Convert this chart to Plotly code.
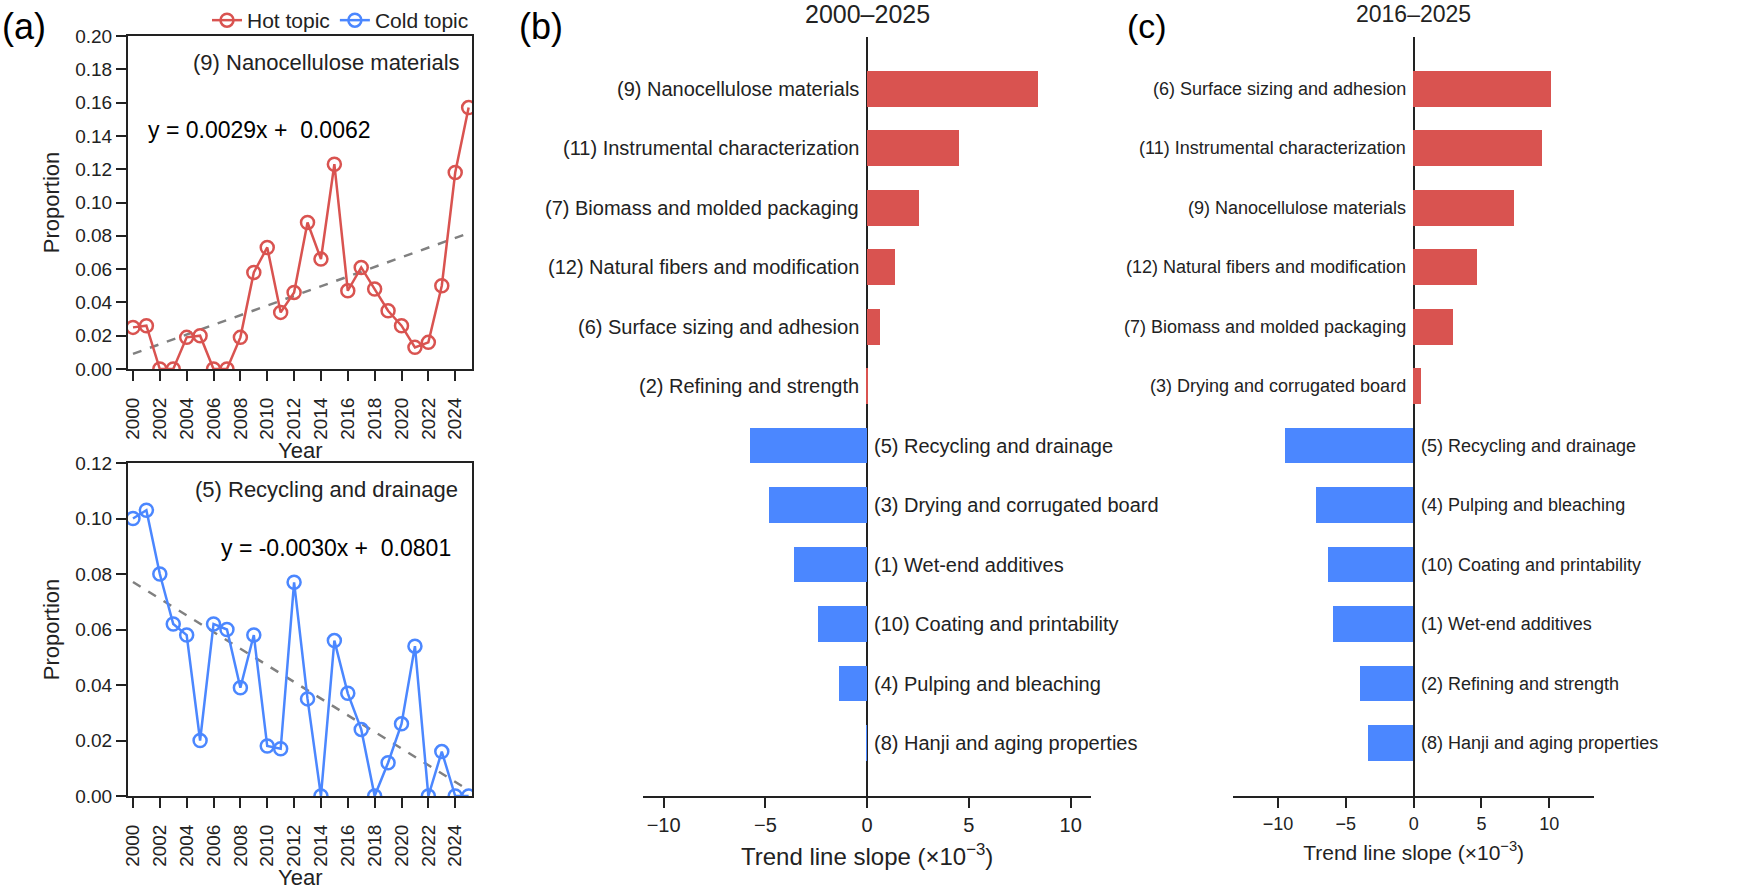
import plotly.graph_objects as go

# ---------------- data ----------------
years = list(range(2000, 2026))
hot_name = "(9) Nanocellulose materials"
hot_vals = [0.025, 0.026, 0.0, 0.0, 0.019, 0.020, 0.0, 0.0, 0.019, 0.058, 0.073, 0.034, 0.046,
            0.088, 0.066, 0.123, 0.047, 0.061, 0.048, 0.035, 0.026, 0.013, 0.016, 0.050, 0.118, 0.157]
hot_slope, hot_intercept = 0.0029, 0.0062

cold_name = "(5) Recycling and drainage"
cold_vals = [0.100, 0.103, 0.080, 0.062, 0.058, 0.020, 0.062, 0.060, 0.039, 0.058, 0.018, 0.017, 0.077,
             0.035, 0.0, 0.056, 0.037, 0.024, 0.0, 0.012, 0.026, 0.054, 0.0, 0.016, 0.0, 0.0]
cold_slope, cold_intercept = -0.0030, 0.0801

b_title = "2000–2025"
b_topics = ["(9) Nanocellulose materials", "(11) Instrumental characterization",
            "(7) Biomass and molded packaging", "(12) Natural fibers and modification",
            "(6) Surface sizing and adhesion", "(2) Refining and strength",
            "(5) Recycling and drainage", "(3) Drying and corrugated board",
            "(1) Wet-end additives", "(10) Coating and printability",
            "(4) Pulping and bleaching", "(8) Hanji and aging properties"]
b_slopes = [8.4, 4.55, 2.54, 1.36, 0.66, 0.08, -5.74, -4.81, -3.56, -2.38, -1.36, -0.01]

c_title = "2016–2025"
c_topics = ["(6) Surface sizing and adhesion", "(11) Instrumental characterization",
            "(9) Nanocellulose materials", "(12) Natural fibers and modification",
            "(7) Biomass and molded packaging", "(3) Drying and corrugated board",
            "(5) Recycling and drainage", "(4) Pulping and bleaching",
            "(10) Coating and printability", "(1) Wet-end additives",
            "(2) Refining and strength", "(8) Hanji and aging properties"]
c_slopes = [10.14, 9.48, 7.39, 4.72, 2.9, 0.56, -9.43, -7.15, -6.29, -5.9, -3.9, -3.34]

bar_ticks = [-10, -5, 0, 5, 10]
year_ticks = list(range(2000, 2025, 2))

# ---------------- styles ----------------
W, H = 1755, 889
RED = "#d95350"
BLUE = "#4b87ff"
TXT = "#222222"
FONT = "Liberation Sans, Arial, sans-serif"


def px_x(p):
    return p / W


def px_y(p):
    return 1 - p / H


fig = go.Figure()

idx = list(range(1, len(years) + 1))
hot_trend = [hot_slope * i + hot_intercept for i in idx]
cold_trend = [cold_slope * i + cold_intercept for i in idx]

fig.add_trace(go.Scatter(x=years, y=hot_trend, mode="lines", xaxis="x", yaxis="y",
                         line=dict(color="#808080", width=2.5, dash="dash"), showlegend=False))
fig.add_trace(go.Scatter(x=years, y=hot_vals, mode="lines+markers", name="Hot topic",
                         xaxis="x", yaxis="y",
                         line=dict(color=RED, width=2.5),
                         marker=dict(symbol="circle-open", size=13, color=RED, line=dict(width=2.5, color=RED))))
fig.add_trace(go.Scatter(x=years, y=cold_trend, mode="lines", xaxis="x2", yaxis="y2",
                         line=dict(color="#808080", width=2.5, dash="dash"), showlegend=False))
fig.add_trace(go.Scatter(x=years, y=cold_vals, mode="lines+markers", name="Cold topic",
                         xaxis="x2", yaxis="y2",
                         line=dict(color=BLUE, width=2.5),
                         marker=dict(symbol="circle-open", size=13, color=BLUE, line=dict(width=2.5, color=BLUE))))

fig.add_trace(go.Bar(y=b_topics, x=b_slopes, orientation="h", width=0.6, xaxis="x3", yaxis="y3",
                     marker=dict(color=[RED if v > 0 else BLUE for v in b_slopes], line=dict(width=0)),
                     showlegend=False))
fig.add_trace(go.Bar(y=c_topics, x=c_slopes, orientation="h", width=0.6, xaxis="x4", yaxis="y4",
                     marker=dict(color=[RED if v > 0 else BLUE for v in c_slopes], line=dict(width=0)),
                     showlegend=False))

# ---------------- axes ----------------
a_xdom = [px_x(128), px_x(472)]
line_common = dict(showline=True, linecolor=TXT, linewidth=2, ticks="outside", ticklen=10,
                   tickwidth=2, tickcolor=TXT, showgrid=False, zeroline=False, automargin=False)

xa = dict(domain=a_xdom, range=[1999.63, 2025.25], tickvals=year_ticks, tickangle=-90,
          mirror=True, tickfont=dict(size=19, color=TXT, family=FONT), ticklabelstandoff=9,
          **line_common)
ya_common = dict(mirror=True, tickformat=".2f", tickfont=dict(size=19, color=TXT, family=FONT),
                 title=dict(text="Proportion", font=dict(size=22, color=TXT, family=FONT), standoff=10),
                 **line_common)


def bar_xaxis(dom, rng, tsize, ttl_size):
    return dict(domain=dom, range=rng, tickvals=bar_ticks,
                ticktext=[str(v).replace("-", "−") for v in bar_ticks],
                showline=True, linecolor=TXT, linewidth=2, ticks="outside", ticklen=10, tickwidth=2,
                tickcolor=TXT, showgrid=False, zeroline=True, zerolinecolor=TXT, zerolinewidth=2,
                automargin=False, tickfont=dict(size=tsize, color=TXT, family=FONT),
                title=dict(text="Trend line slope (×10<sup>−3</sup>)",
                           font=dict(size=ttl_size, color=TXT, family=FONT), standoff=13))


bar_yaxis = dict(domain=[px_y(796), px_y(37)], range=[11.89, -0.87], showticklabels=False,
                 ticks="", showline=False, showgrid=False, zeroline=False, automargin=False)

layout = dict(
    width=W, height=H, margin=dict(l=0, r=0, t=0, b=0),
    paper_bgcolor="white", plot_bgcolor="white",
    font=dict(family=FONT, color=TXT),
    xaxis=dict(anchor="y", **xa),
    yaxis=dict(anchor="x", domain=[px_y(369), px_y(36)], range=[0, 0.20], dtick=0.02, **ya_common),
    xaxis2=dict(anchor="y2", **xa),
    yaxis2=dict(anchor="x2", domain=[px_y(796), px_y(463)], range=[0, 0.12], dtick=0.02, **ya_common),
    xaxis3=dict(anchor="y3", **bar_xaxis([px_x(643.3), px_x(1091)], [-11, 11], 20, 24)),
    yaxis3=dict(anchor="x3", **bar_yaxis),
    xaxis4=dict(anchor="y4", **bar_xaxis([px_x(1233.3), px_x(1594)], [-13.3, 13.3], 18, 21)),
    yaxis4=dict(anchor="x4", **bar_yaxis),
    legend=dict(orientation="h", x=px_x(474), y=px_y(0), xanchor="right", yanchor="top",
                font=dict(size=21, color=TXT, family=FONT), itemwidth=30, bgcolor="rgba(0,0,0,0)",
                tracegroupgap=0),
    bargap=0,
)
fig.update_layout(**layout)

# ---------------- annotations ----------------
ann = []
# panel labels
ann.append(dict(text="(a)", x=px_x(0), y=px_y(27), xref="paper", yref="paper", xanchor="left",
                yanchor="middle", showarrow=False, font=dict(size=36, color="black", family=FONT)))
ann.append(dict(text="(b)", x=px_x(541), y=px_y(26), xref="paper", yref="paper", xanchor="center",
                yanchor="middle", showarrow=False, font=dict(size=36, color="black", family=FONT)))
ann.append(dict(text="(c)", x=px_x(1147), y=px_y(26), xref="paper", yref="paper", xanchor="center",
                yanchor="middle", showarrow=False, font=dict(size=34, color="black", family=FONT)))
# x-axis titles of panel (a)
for xr, ypix in [("x domain", 450), ("x2 domain", 877)]:
    ann.append(dict(text="Year", x=0.5, y=px_y(ypix), xref=xr, yref="paper", xanchor="center",
                    yanchor="middle", showarrow=False, font=dict(size=22, color=TXT, family=FONT)))
# titles
ann.append(dict(text=b_title, x=0.5, y=px_y(14), xref="x3 domain", yref="paper", xanchor="center",
                yanchor="middle", showarrow=False, font=dict(size=25, color=TXT, family=FONT)))
ann.append(dict(text=c_title, x=0.5, y=px_y(14), xref="x4 domain", yref="paper", xanchor="center",
                yanchor="middle", showarrow=False, font=dict(size=23, color=TXT, family=FONT)))
# panel (a) texts
ann.append(dict(text=hot_name, x=0.971, y=0.919, xref="x domain", yref="y domain", xanchor="right",
                yanchor="middle", showarrow=False, font=dict(size=22, color=TXT, family=FONT)))
ann.append(dict(text=f"y = {hot_slope:.4f}x +\u00a0 {hot_intercept:.4f}", x=0.052, y=0.718,
                xref="x domain", yref="y domain", xanchor="left", yanchor="middle", showarrow=False,
                font=dict(size=23, color="black", family=FONT)))
ann.append(dict(text=cold_name, x=0.965, y=0.919, xref="x2 domain", yref="y2 domain", xanchor="right",
                yanchor="middle", showarrow=False, font=dict(size=22, color=TXT, family=FONT)))
ann.append(dict(text=f"y = {cold_slope:.4f}x +\u00a0 {cold_intercept:.4f}", x=0.945, y=0.745,
                xref="x2 domain", yref="y2 domain", xanchor="right", yanchor="middle", showarrow=False,
                font=dict(size=23, color="black", family=FONT)))
# bar labels
for topics, vals, xr, yr, fsize in [(b_topics, b_slopes, "x3", "y3", 20), (c_topics, c_slopes, "x4", "y4", 18)]:
    for t, v in zip(topics, vals):
        pos = v > 0
        ann.append(dict(text=t, x=0, y=t, xref=xr, yref=yr, xanchor="right" if pos else "left",
                        xshift=-6 if pos else 5, yanchor="middle", showarrow=False,
                        font=dict(size=fsize, color=TXT, family=FONT)))
fig.update_layout(annotations=ann)

fig.write_html("out.html")
